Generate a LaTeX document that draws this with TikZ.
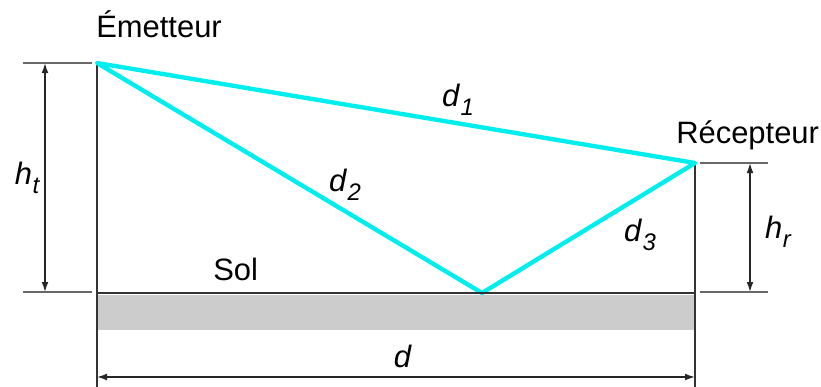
\documentclass[tikz,border=0pt]{standalone}
\usepackage{fontspec}
\setmainfont{Liberation Sans}
\usetikzlibrary{arrows.meta, positioning}
\definecolor{raycyan}{RGB}{0,238,238}
\definecolor{soilgray}{RGB}{204,204,204}
\definecolor{extgray}{RGB}{105,105,105}
\tikzset{
  ray/.style={draw=raycyan, line width=3.1pt, line join=round},
  post/.style={draw=black!80, line width=1.3pt},
  extline/.style={draw=extgray, line width=1.2pt},
  dimarr/.style={{Latex[length=0.25cm,width=0.17cm]}-{Latex[length=0.25cm,width=0.17cm]},
                 draw=black!85, line width=1pt},
  lbl/.style={font=\fontsize{22}{26}\selectfont, inner sep=0pt},
}
\newcommand{\sym}[2]{\textit{#1}\kern0.02em\raisebox{-0.28em}{\fontsize{17}{17}\selectfont\itshape #2}}

\begin{document}
\begin{tikzpicture}[x=0.025cm, y=-0.025cm]
  \useasboundingbox (0,0) rectangle (821,387);

  % ground
  \fill[soilgray] (97,295) rectangle (695,330);

  % antenna and ground points
  \coordinate (tx) at (97,63);
  \coordinate (rx) at (695,163);
  \coordinate (refl) at (482,293);
  \coordinate (gl) at (97,293);
  \coordinate (gr) at (695,293);
  \coordinate (bl) at (97,387);
  \coordinate (br) at (695,387);

  % masts
  \draw[post] (tx) -- (bl);
  \draw[post] (rx) -- (br);

  % rays
  \draw[ray] (tx) -- (rx) -- (refl) -- cycle;

  % ground line
  \draw[post, line width=1.8pt] (gl) -- (gr);

  % extension lines
  \coordinate (htA) at (23,63);   \coordinate (htB) at (92,63);
  \coordinate (htC) at (23,292);  \coordinate (htD) at (92,292);
  \coordinate (hrA) at (700,163); \coordinate (hrB) at (768,163);
  \coordinate (hrC) at (700,292); \coordinate (hrD) at (768,292);
  \draw[extline] (htA) -- (htB);
  \draw[extline] (htC) -- (htD);
  \draw[extline] (hrA) -- (hrB);
  \draw[extline] (hrC) -- (hrD);

  % dimensions
  \coordinate (ht1) at (45,63);  \coordinate (ht2) at (45,292);
  \coordinate (hr1) at (750,163); \coordinate (hr2) at (750,292);
  \coordinate (dd1) at (97,377);  \coordinate (dd2) at (695,377);
  \draw[dimarr] (ht1) -- (ht2);
  \draw[dimarr] (hr1) -- (hr2);
  \draw[dimarr] (dd1) -- (dd2);

  % labels
  \node[lbl, anchor=base west] (emet) at (96,38) {Émetteur};
  \node[lbl, anchor=base west] (recep) at (676,143) {Récepteur};
  \node[lbl, anchor=base west] (sol) at (213,280) {Sol};
  \node[lbl] (ld1) at (458,100) {\sym{d}{1}};
  \node[lbl] (ld2) at (345,185) {\sym{d}{2}};
  \node[lbl] (ld3) at (640,235) {\sym{d}{3}};
  \node[lbl] (lht) at (27,178) {\sym{h}{t}};
  \node[lbl] (lhr) at (778,232) {\sym{h}{r}};
  \node[lbl] (ld) at (403,356) {\textit{d}};
\end{tikzpicture}
\end{document}
